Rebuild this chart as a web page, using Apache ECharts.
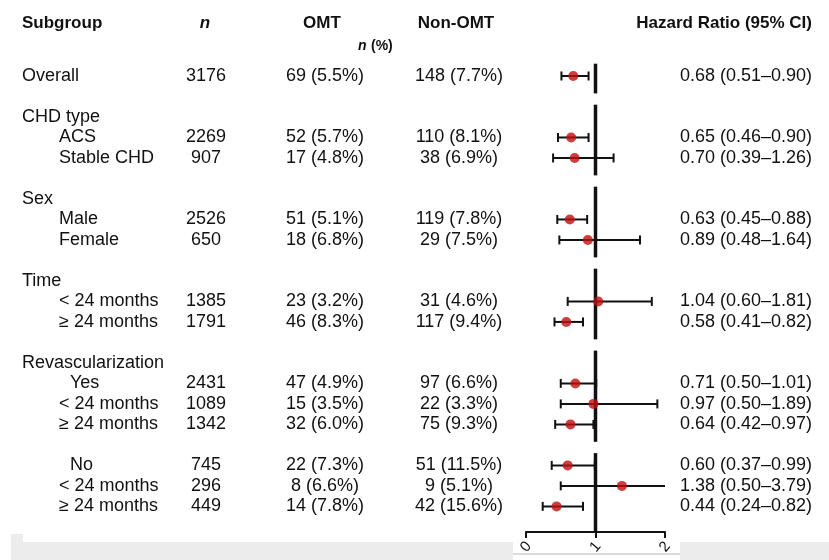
<!DOCTYPE html>
<html><head><meta charset="utf-8">
<script src="https://cdn.jsdelivr.net/npm/echarts@6/dist/echarts.min.js"></script>
<style>html,body{margin:0;padding:0;background:#fff}#c{width:829px;height:560px}</style>
</head><body><div id="c"></div>
<script>
// ---- data (null = group header / spacer row) ----
const subgroups = ['Overall', null, 'CHD type', 'ACS', 'Stable CHD', null, 'Sex', 'Male', 'Female', null,
  'Time', '< 24 months', '≥ 24 months', null, 'Revascularization', 'Yes', '< 24 months', '≥ 24 months', null,
  'No', '< 24 months', '≥ 24 months'];
const levels = [0, null, 0, 1, 1, null, 0, 1, 1, null, 0, 1, 1, null, 0, 2, 1, 1, null, 2, 1, 1];
const nTotal = [3176, null, null, 2269, 907, null, null, 2526, 650, null, null, 1385, 1791, null, null, 2431, 1089, 1342, null, 745, 296, 449];
const omtN   = [69, null, null, 52, 17, null, null, 51, 18, null, null, 23, 46, null, null, 47, 15, 32, null, 22, 8, 14];
const omtPct = [5.5, null, null, 5.7, 4.8, null, null, 5.1, 6.8, null, null, 3.2, 8.3, null, null, 4.9, 3.5, 6.0, null, 7.3, 6.6, 7.8];
const nonN   = [148, null, null, 110, 38, null, null, 119, 29, null, null, 31, 117, null, null, 97, 22, 75, null, 51, 9, 42];
const nonPct = [7.7, null, null, 8.1, 6.9, null, null, 7.8, 7.5, null, null, 4.6, 9.4, null, null, 6.6, 3.3, 9.3, null, 11.5, 5.1, 15.6];
const hr     = [0.68, null, null, 0.65, 0.70, null, null, 0.63, 0.89, null, null, 1.04, 0.58, null, null, 0.71, 0.97, 0.64, null, 0.60, 1.38, 0.44];
const lo     = [0.51, null, null, 0.46, 0.39, null, null, 0.45, 0.48, null, null, 0.60, 0.41, null, null, 0.50, 0.50, 0.42, null, 0.37, 0.50, 0.24];
const hi     = [0.90, null, null, 0.90, 1.26, null, null, 0.88, 1.64, null, null, 1.81, 0.82, null, null, 1.01, 1.89, 0.97, null, 0.99, 3.79, 0.82];
const xTicks = [0, 1, 2];
const headers = { subgroup: 'Subgroup', n: 'n', omt: 'OMT', non: 'Non-OMT', sub: '(%)', hr: 'Hazard Ratio (95% CI)' };

// ---- derived ----
const FONT = '"Liberation Sans", Arial, Helvetica, sans-serif';
const FS = 18;
const nRows = subgroups.length;
const yMin = -1, yMax = nRows + 0.25;
const xMin = xTicks[0], xMax = xTicks[xTicks.length - 1];
const isRow = v => Math.abs(v - Math.round(v)) < 1e-6 && Math.round(v) >= 0 && Math.round(v) < nRows;
const groups = [];
subgroups.forEach((s, i) => {
  if (s == null) return;
  if (i === 0 || subgroups[i - 1] == null) groups.push([i, i]); else groups[groups.length - 1][1] = i;
});
const ciData = [], ptData = [];
hr.forEach((h, i) => { if (h != null) { ciData.push([h, i, lo[i], hi[i]]); ptData.push([h, i]); } });

const XL = 526, XR = 665;
function textAxis(pos, align, margin, fmt, extra) {
  return {
    type: 'value', inverse: true, min: yMin, max: yMax, interval: 1, position: pos, gridIndex: 0,
    axisLine: { show: false, onZero: false }, axisTick: { show: false }, splitLine: { show: false },
    axisLabel: Object.assign({ align: align, margin: margin, fontSize: FS, fontFamily: FONT, color: '#111',
      formatter: v => isRow(v) ? fmt(Math.round(v)) : '' }, extra || {})
  };
}
const pad = { 0: 0, 1: 37, 2: 48 };
const rich = {};
[0, 1, 2].forEach(l => rich['l' + l] = { padding: [0, 0, 0, pad[l]], fontSize: FS, fontFamily: FONT, color: '#111' });

const chart = echarts.init(document.getElementById('c'), null, { renderer: 'canvas' });
chart.setOption({
  backgroundColor: '#fff',
  animation: false,
  grid: { left: XL, right: 829 - XR, top: 55.5, bottom: 28, containLabel: false, outerBoundsMode: 'none' },
  xAxis: {
    type: 'value', min: xMin, max: xMax, interval: 1, position: 'bottom',
    axisLine: { onZero: false, lineStyle: { color: '#111', width: 2 } },
    axisTick: { length: 6, lineStyle: { color: '#111', width: 2 } },
    axisLabel: { rotate: 50, align: 'center', verticalAlign: 'middle', fontSize: 15, fontFamily: FONT, color: '#111', margin: 15 },
    splitLine: { show: false }
  },
  yAxis: [
    textAxis('left', 'left', 0, () => '', { show: false }),
    textAxis('left', 'left', XL - 22, i => subgroups[i] == null ? '' : '{l' + levels[i] + '|' + subgroups[i] + '}', { rich: rich }),
    textAxis('left', 'center', XL - 206, i => nTotal[i] == null ? '' : String(nTotal[i])),
    textAxis('left', 'center', XL - 325, i => omtN[i] == null ? '' : omtN[i] + ' (' + omtPct[i].toFixed(1) + '%)', { padding: [7, 0, 0, 0] }),
    textAxis('left', 'center', XL - 459, i => nonN[i] == null ? '' : nonN[i] + ' (' + nonPct[i].toFixed(1) + '%)', { padding: [2, 0, 0, 0] }),
    textAxis('right', 'right', 812 - XR, i => hr[i] == null ? '' : hr[i].toFixed(2) + ' (' + lo[i].toFixed(2) + '–' + hi[i].toFixed(2) + ')')
  ],
  series: [
    {
      type: 'custom', xAxisIndex: 0, yAxisIndex: 0, z: 2,
      data: groups.map((g, k) => [1, g[0], g[1], k === groups.length - 1 ? 1 : 0]),
      encode: { x: 0, y: 1 },
      renderItem: (params, api) => {
        const x = api.coord([api.value(0), 0])[0];
        const y0 = api.coord([1, api.value(1) - 0.6])[1];
        const y1 = api.value(3) ? api.coord([1, yMax])[1] : api.coord([1, api.value(2) + 0.85])[1];
        return { type: 'line', shape: { x1: x, y1: y0, x2: x, y2: y1 }, style: { stroke: '#111', lineWidth: 3.5 } };
      }
    },
    {
      type: 'custom', xAxisIndex: 0, yAxisIndex: 0, z: 3,
      data: ciData, encode: { x: 0, y: 1 },
      renderItem: (params, api) => {
        const r = api.value(1), l = api.value(2), h = api.value(3);
        const a = api.coord([Math.max(l, xMin), r]);
        const b = api.coord([Math.min(h, xMax), r]);
        const st = { stroke: '#111', lineWidth: 2 };
        const ch = [{ type: 'line', shape: { x1: a[0], y1: a[1], x2: b[0], y2: b[1] }, style: st }];
        if (l >= xMin) ch.push({ type: 'line', shape: { x1: a[0], y1: a[1] - 4.5, x2: a[0], y2: a[1] + 4.5 }, style: st });
        if (h <= xMax) ch.push({ type: 'line', shape: { x1: b[0], y1: b[1] - 4.5, x2: b[0], y2: b[1] + 4.5 }, style: st });
        return { type: 'group', children: ch };
      }
    },
    {
      type: 'scatter', xAxisIndex: 0, yAxisIndex: 0, z: 4,
      data: ptData, symbol: 'circle', symbolSize: 10,
      itemStyle: { color: '#c10f0f' }
    }
  ],
  graphic: [
    { type: 'rect', shape: { x: 23, y: 542, width: 490, height: 18 }, style: { fill: '#ececec' }, z: -10 },
    { type: 'rect', shape: { x: 11, y: 534, width: 12, height: 26 }, style: { fill: '#ececec' }, z: -10 },
    { type: 'rect', shape: { x: 680, y: 542, width: 149, height: 18 }, style: { fill: '#ececec' }, z: -10 },
    { type: 'line', shape: { x1: 513, y1: 554, x2: 680, y2: 554 }, style: { stroke: '#cfcfcf', lineWidth: 1.5 }, z: -10 },
    { type: 'text', x: 22, y: 23, style: { text: headers.subgroup, font: 'bold 17px ' + FONT, fill: '#111', textVerticalAlign: 'middle' } },
    { type: 'text', x: 205, y: 23, style: { text: headers.n, font: 'italic bold 17px ' + FONT, fill: '#111', textAlign: 'center', textVerticalAlign: 'middle' } },
    { type: 'text', x: 322, y: 23, style: { text: headers.omt, font: 'bold 17px ' + FONT, fill: '#111', textAlign: 'center', textVerticalAlign: 'middle' } },
    { type: 'text', x: 456, y: 23, style: { text: headers.non, font: 'bold 17px ' + FONT, fill: '#111', textAlign: 'center', textVerticalAlign: 'middle' } },
    { type: 'text', x: 358, y: 46, style: { text: headers.n, font: 'italic bold 14px ' + FONT, fill: '#111', textVerticalAlign: 'middle' } },
    { type: 'text', x: 371, y: 46, style: { text: headers.sub, font: 'bold 14px ' + FONT, fill: '#111', textVerticalAlign: 'middle' } },
    { type: 'text', x: 812, y: 23, style: { text: headers.hr, font: 'bold 17px ' + FONT, fill: '#111', textAlign: 'right', textVerticalAlign: 'middle' } }
  ]
});
</script></body></html>
